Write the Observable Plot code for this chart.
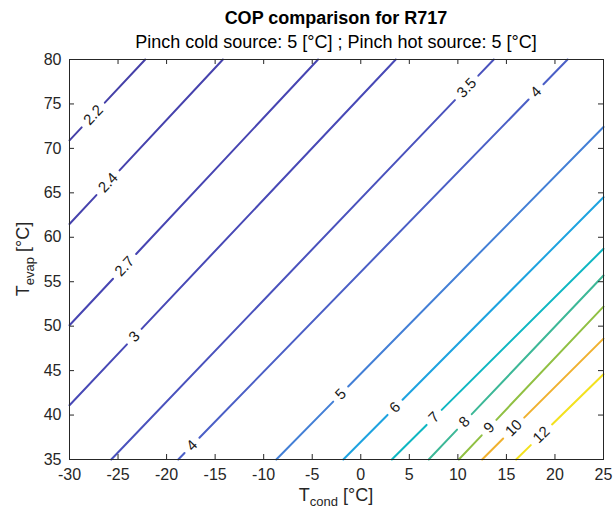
<!DOCTYPE html>
<html><head><meta charset="utf-8">
<script src="https://cdn.jsdelivr.net/npm/d3@7"></script>
<script src="https://cdn.jsdelivr.net/npm/@observablehq/plot@0.6"></script>
<style>
html,body{margin:0;padding:0;background:#fff}
#chart svg{display:block}
</style></head>
<body><div id="chart"></div>
<script>
// ---- text ----
const titleText = "COP comparison for R717";
const subtitleText = "Pinch cold source: 5 [°C] ; Pinch hot source: 5 [°C]";
const xLabelMain = "T", xLabelSub = "cond", xLabelUnit = " [°C]";
const yLabelMain = "T", yLabelSub = "evap", yLabelUnit = " [°C]";

// ---- axes ----
const xDomain = [-30, 25];
const yDomain = [35, 80];
const xTicks = [-30, -25, -20, -15, -10, -5, 0, 5, 10, 15, 20, 25];
const yTicks = [35, 40, 45, 50, 55, 60, 65, 70, 75, 80];

// ---- contour lines (COP levels), end points ----
const levels = [2.2, 2.4, 2.7, 3, 3.5, 4, 5, 6, 7, 8, 9, 10, 12];
const lineX0 = [-30, -30, -30, -30, -25.7, -18.8, -8.7, -1.8, 3.2, 7.0, 10.1, 12.5, 16.0];
const lineY0 = [70.9, 61.5, 50.1, 41.1, 35, 35, 35, 35, 35, 35, 35, 35, 35];
const lineX1 = [-22.2, -14.2, -4.4, 3.6, 13.7, 21.3, 25, 25, 25, 25, 25, 25, 25];
const lineY1 = [80, 80, 80, 80, 80, 80, 72.4, 64.5, 58.7, 55.7, 52.2, 48.6, 44.6];

// ---- contour labels ----
const labelLevel = [2.2, 2.4, 2.7, 3, 3.5, 4, 4, 5, 6, 7, 8, 9, 10, 12];
const labelX = [-27.5, -26.0, -24.2, -23.5, 11.0, 18.1, -17.3, -2.1, 3.5, 7.5, 10.8, 13.3, 15.6, 18.5];
const labelY = [73.7, 66.1, 56.6, 49.0, 76.7, 76.3, 36.5, 42.4, 40.9, 39.8, 39.1, 38.5, 38.7, 37.9];

// ---- style ----
const levelColors = ["#4540a8","#4642ad","#4745b2","#4849b6","#4a52bd","#4b5fc6","#437fd6","#1ea3e0","#0fb7c2","#3db897","#90c043","#f0b12f","#f3e11e"];
const font = "'Liberation Sans', Arial, Helvetica, sans-serif";
const ink = "#262626";
const W = 615, H = 516, mL = 69, mR = 12, mT = 59, mB = 57;
const innerW = W - mL - mR, innerH = H - mT - mB;
const labelSize = 15, gapPad = 6.5;

const sx = d3.scaleLinear(xDomain, [mL, W - mR]);
const sy = d3.scaleLinear(yDomain, [H - mB, mT]);
const ctx = document.createElement("canvas").getContext("2d");
ctx.font = `${labelSize}px ${font}`;

// split each line around its labels, and put each label on its line
const segs = [], labs = [];
levels.forEach((v, i) => {
  const ax = sx(lineX0[i]), ay = sy(lineY0[i]), bx = sx(lineX1[i]), by = sy(lineY1[i]);
  const dx = bx - ax, dy = by - ay, len = Math.hypot(dx, dy);
  const ang = Math.atan2(dy, dx) * 180 / Math.PI;
  const cuts = [];
  labelLevel.forEach((lv, j) => {
    if (lv !== v) return;
    const px = sx(labelX[j]), py = sy(labelY[j]);
    const t = ((px - ax) * dx + (py - ay) * dy) / (len * len);
    const txt = String(lv);
    const h = (ctx.measureText(txt).width / 2 + gapPad) / len;
    cuts.push([t - h, t + h]);
    labs.push({level: lv, text: txt, x: sx.invert(ax + t * dx), y: sy.invert(ay + t * dy), rotate: ang});
  });
  cuts.sort((a, b) => a[0] - b[0]);
  let t0 = 0, k = 0;
  for (const [c0, c1] of [...cuts, [1, 1]]) {
    if (c0 > t0) {
      const id = `${i}-${k++}`;
      segs.push({id, level: v, x: sx.invert(ax + t0 * dx), y: sy.invert(ay + t0 * dy)});
      segs.push({id, level: v, x: sx.invert(ax + c0 * dx), y: sy.invert(ay + c0 * dy)});
    }
    t0 = c1;
  }
});

const fmt = d => String(d);

const plot = Plot.plot({
  width: W, height: H,
  marginLeft: mL, marginRight: mR, marginTop: mT, marginBottom: mB,
  style: {fontFamily: font, fontSize: "16px", color: ink, background: "white", overflow: "visible"},
  x: {domain: xDomain, ticks: xTicks, tickFormat: fmt, tickSize: 0, tickPadding: 9, label: null},
  y: {domain: yDomain, ticks: yTicks, tickFormat: fmt, tickSize: 0, tickPadding: 8, label: null},
  color: {type: "ordinal", domain: levels, range: levelColors},
  marks: [
    Plot.line(segs, {x: "x", y: "y", z: "id", stroke: "level", strokeWidth: 2}),
    Plot.text(labs, {x: "x", y: "y", text: "text", rotate: "rotate", fill: "#1a1a1a", fontSize: labelSize}),
    Plot.tickX(xTicks, {x: d => d, stroke: ink, insetTop: innerH - 5}),
    Plot.tickX(xTicks, {x: d => d, stroke: ink, insetBottom: innerH - 5}),
    Plot.tickY(yTicks, {y: d => d, stroke: ink, insetRight: innerW - 5}),
    Plot.tickY(yTicks, {y: d => d, stroke: ink, insetLeft: innerW - 5}),
    Plot.frame({stroke: ink})
  ]
});

const svg = d3.select(plot);
svg.append("text").attr("x", mL + innerW / 2).attr("y", 24).attr("text-anchor", "middle")
  .attr("font-family", font).attr("font-size", 18).attr("font-weight", "bold").attr("fill", "#000").text(titleText);
svg.append("text").attr("x", mL + innerW / 2).attr("y", 48).attr("text-anchor", "middle")
  .attr("font-family", font).attr("font-size", 18).attr("fill", "#000").text(subtitleText);

const xl = svg.append("text").attr("x", mL + innerW / 2).attr("y", 501).attr("text-anchor", "middle")
  .attr("font-family", font).attr("font-size", 18).attr("fill", ink);
xl.append("tspan").text(xLabelMain);
xl.append("tspan").attr("font-size", 13).attr("dy", 5).text(xLabelSub);
xl.append("tspan").attr("dy", -5).text(xLabelUnit);

const yl = svg.append("text").attr("transform", `translate(29,${mT + innerH / 2}) rotate(-90)`).attr("text-anchor", "middle")
  .attr("font-family", font).attr("font-size", 18).attr("fill", ink);
yl.append("tspan").text(yLabelMain);
yl.append("tspan").attr("font-size", 13).attr("dy", 5).text(yLabelSub);
yl.append("tspan").attr("dy", -5).text(yLabelUnit);

document.getElementById("chart").appendChild(plot);
</script>
</body></html>
